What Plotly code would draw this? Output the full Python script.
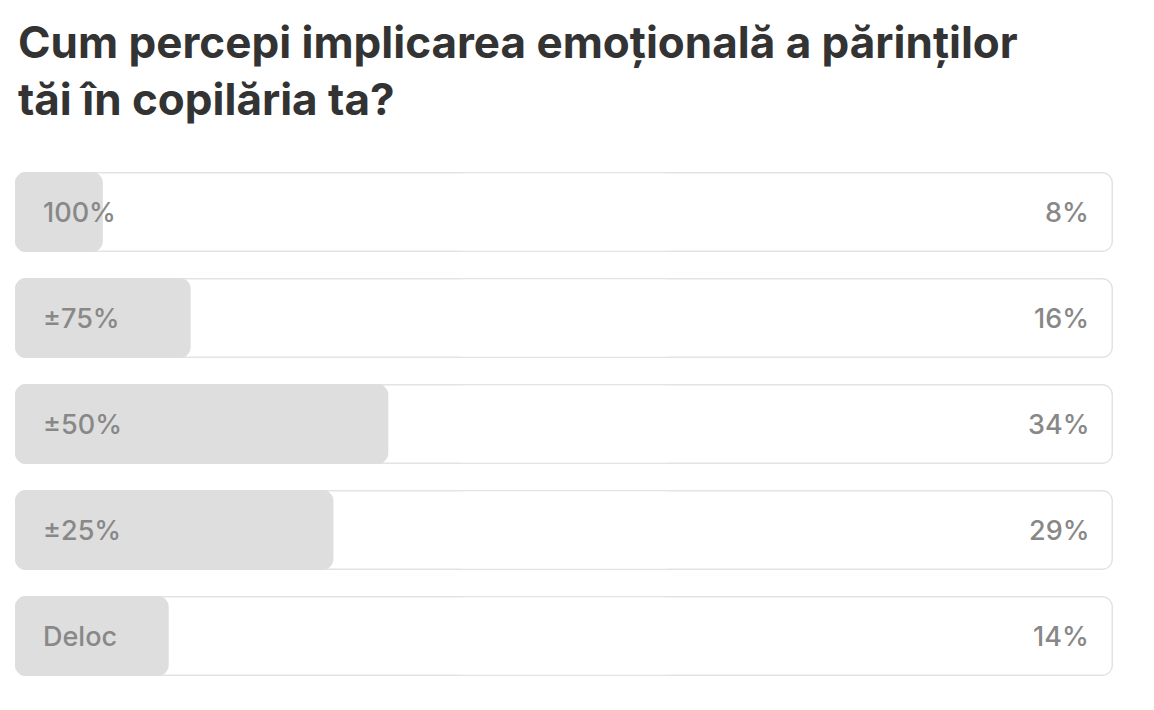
import plotly.graph_objects as go

categories = ["100%", "±75%", "±50%", "±25%", "Deloc"]
percentages = [8, 16, 34, 29, 14]
value_labels = ["8%", "16%", "34%", "29%", "14%"]
title_text = "Cum percepi implicarea emoțională a părinților<br>tăi în copilăria ta?"
track_total = 100

FONT = "Inter, Roboto, Arial, sans-serif"
BAR_W = 0.755          # 80 px of a 106 px row
INNER_W = 0.755 - 3 / 106
INSET = 1.5 / 1098 * 100
RADIUS = 11

fig = go.Figure()


def add_round_bar(start, end, color, width, radius):
    """Bar rounded at both ends: two overlapping halves, each rounded at its far end."""
    starts = list(start)
    ends = list(end)
    left_base = [s + (e - s) * 0.6 for s, e in zip(starts, ends)]
    right_base = [s + (e - s) * 0.4 for s, e in zip(starts, ends)]
    fig.add_trace(go.Bar(
        y=categories, base=left_base, x=[s - b for s, b in zip(starts, left_base)],
        orientation="h", width=width,
        marker=dict(color=color, line=dict(width=0), cornerradius=radius),
        hoverinfo="skip", showlegend=False,
    ))
    fig.add_trace(go.Bar(
        y=categories, base=right_base, x=[e - b for e, b in zip(ends, right_base)],
        orientation="h", width=width,
        marker=dict(color=color, line=dict(width=0), cornerradius=radius),
        hoverinfo="skip", showlegend=False,
    ))


n = len(categories)
# track border
add_round_bar([0] * n, [track_total] * n, "#e3e3e3", BAR_W, RADIUS)
# track inner (white)
add_round_bar([INSET] * n, [track_total - INSET] * n, "#ffffff", INNER_W, RADIUS - 1.5)
# filled portions
add_round_bar([0] * n, percentages, "#dedede", BAR_W, RADIUS)

for cat, lab in zip(categories, value_labels):
    fig.add_annotation(x=0, y=cat, xref="x", yref="y", text=cat, showarrow=False,
                       xanchor="left", xshift=26,
                       font=dict(family=FONT, size=27, color="#888888", weight=500))
    fig.add_annotation(x=track_total, y=cat, xref="x", yref="y", text=lab, showarrow=False,
                       xanchor="right", xshift=-22,
                       font=dict(family=FONT, size=27, color="#888888", weight=500))

fig.add_annotation(
    text=title_text, showarrow=False, align="left",
    xref="paper", yref="paper", x=1 / 1098, y=1 + (159 - 13) / 530,
    xanchor="left", yanchor="top",
    font=dict(family=FONT, size=44, color="#333333", weight=700),
)

fig.update_layout(
    width=1154, height=710,
    barmode="overlay",
    paper_bgcolor="white", plot_bgcolor="white",
    margin=dict(l=15, r=41, t=159, b=21),
    xaxis=dict(range=[0, 100], visible=False, fixedrange=True),
    yaxis=dict(visible=False, autorange=False, range=[4.5, -0.5], fixedrange=True),
)

fig.write_html("out.html", config={"displayModeBar": False},
               post_script="document.body.style.margin='0';")
